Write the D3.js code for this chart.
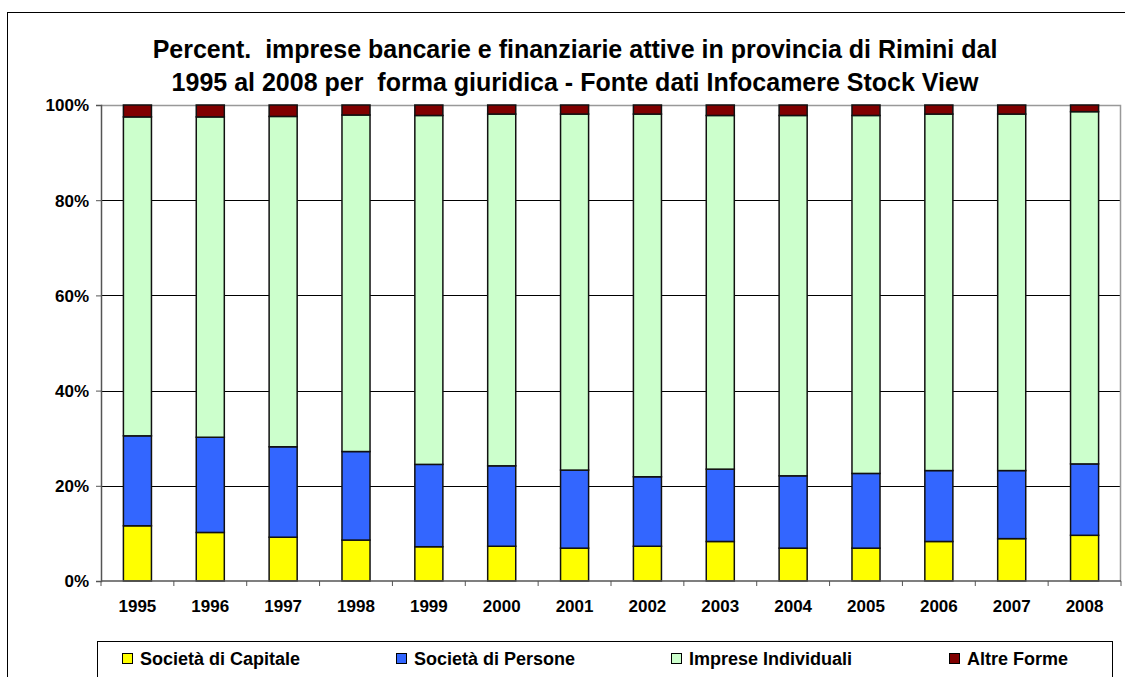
<!DOCTYPE html>
<html lang="it">
<head>
<meta charset="UTF-8">
<title>Imprese bancarie e finanziarie - Rimini</title>
<script src="https://d3js.org/d3.v7.min.js"></script>
<style>
  body { margin: 0; background: #fff; }
  text { font-family: "Liberation Sans", Arial, sans-serif; font-weight: bold; fill: #000; }
  .title { font-size: 25px; text-anchor: middle; }
  .tick-lab { font-size: 17px; }
  .x-lab { font-size: 17px; }
  .legend text { font-size: 18px; }
</style>
</head>
<body>
<div id="chart"></div>
<script>
// data (percent of total per year)
const years = ["1995","1996","1997","1998","1999","2000","2001","2002","2003","2004","2005","2006","2007","2008"];
const capitale    = [11.6, 10.2, 9.2, 8.6, 7.2, 7.3, 6.9, 7.3, 8.3, 6.9, 6.9, 8.3, 8.9, 9.6];
const persone     = [18.9, 20.0, 19.0, 18.6, 17.3, 16.9, 16.4, 14.6, 15.2, 15.2, 15.7, 14.9, 14.3, 15.0];
const individuali = [67.0, 67.3, 69.4, 70.7, 73.3, 73.9, 74.8, 76.2, 74.3, 75.7, 75.2, 74.9, 74.9, 74.0];
const altre       = [2.5, 2.5, 2.4, 2.1, 2.2, 1.9, 1.9, 1.9, 2.2, 2.2, 2.2, 1.9, 1.9, 1.4];
const seriesNames = ["Società di Capitale", "Società di Persone", "Imprese Individuali", "Altre Forme"];
const seriesColors = ["#FFFF00", "#3366FF", "#CCFFCC", "#800000"];
const yTicks = [0, 0.2, 0.4, 0.6, 0.8, 1];

const W = 1125, H = 677;
const margin = { top: 105, right: 4, bottom: 96, left: 101 };
const width = W - margin.left - margin.right,
      height = H - margin.top - margin.bottom;

const svg = d3.select("#chart").append("svg")
    .attr("width", W).attr("height", H);

// outer chart frame
svg.append("rect")
   .attr("x", 7.5).attr("y", 12.5)
   .attr("width", W + 20).attr("height", H + 20)
   .attr("fill", "none").attr("stroke", "#000").attr("stroke-width", 1);

// title
const title = svg.append("text").attr("class", "title").style("white-space", "pre");
title.append("tspan").attr("x", 575).attr("y", 58)
     .text("Percent.  imprese bancarie e finanziarie attive in provincia di Rimini dal");
title.append("tspan").attr("x", 575).attr("y", 91)
     .text("1995 al 2008 per  forma giuridica - Fonte dati Infocamere Stock View");

const g = svg.append("g").attr("transform", `translate(${margin.left},${margin.top})`);

const x = d3.scaleBand().domain(years).range([0, width]).paddingInner(0.615).paddingOuter(0.3075);
const y = d3.scaleLinear().domain([0, 1]).range([height, 0]);

// rows -> stack
const rows = years.map((yr, i) => {
  const tot = capitale[i] + persone[i] + individuali[i] + altre[i];
  return { year: yr, s0: capitale[i] / tot, s1: persone[i] / tot, s2: individuali[i] / tot, s3: altre[i] / tot };
});
const stack = d3.stack().keys(["s0", "s1", "s2", "s3"])(rows);

// gridlines
g.selectAll("line.grid").data(yTicks.filter(d => d > 0 && d < 1)).join("line")
  .attr("class", "grid")
  .attr("x1", 0).attr("x2", width)
  .attr("y1", d => Math.round(y(d)) + 0.5).attr("y2", d => Math.round(y(d)) + 0.5)
  .attr("stroke", "#000").attr("stroke-width", 1);

// plot border (top, right)
g.append("path")
  .attr("d", `M0,${y(1) + 0.5}H${width - 0.5}V${height}`)
  .attr("fill", "none").attr("stroke", "#999").attr("stroke-width", 1.5);

// bars
stack.forEach((layer, k) => {
  g.append("g").selectAll("rect").data(layer).join("rect")
    .attr("x", d => x(d.data.year))
    .attr("y", d => y(d[1]))
    .attr("width", x.bandwidth())
    .attr("height", d => y(d[0]) - y(d[1]))
    .attr("fill", seriesColors[k])
    .attr("stroke", "#111").attr("stroke-width", 1.5);
});

// y axis
const yAxis = d3.axisLeft(y).tickValues(yTicks).tickFormat(d3.format(".0%")).tickSize(5).tickPadding(7);
const yg = g.append("g").call(yAxis);
yg.select(".domain").attr("stroke", "#555").attr("stroke-width", 1.5);
yg.selectAll(".tick line").attr("stroke", "#555");
yg.selectAll(".tick text").attr("class", "tick-lab").attr("dy", "0.35em");

// x axis with ticks at category boundaries
const xg = g.append("g").attr("transform", `translate(0,${height})`);
xg.append("line").attr("x1", 0).attr("x2", width).attr("y1", 0).attr("y2", 0)
  .attr("stroke", "#555").attr("stroke-width", 1.5);
xg.selectAll("line.tk").data(years.concat(["end"])).join("line")
  .attr("class", "tk")
  .attr("x1", (d, i) => i * x.step()).attr("x2", (d, i) => i * x.step())
  .attr("y1", 0).attr("y2", 5)
  .attr("stroke", "#555");
xg.selectAll("text").data(years).join("text")
  .attr("class", "x-lab")
  .attr("x", d => x(d) + x.bandwidth() / 2)
  .attr("y", 30.5)
  .attr("text-anchor", "middle")
  .text(d => d);

// legend
const legend = svg.append("g").attr("class", "legend");
legend.append("rect")
  .attr("x", 97.5).attr("y", 641.5).attr("width", 1015).attr("height", 60)
  .attr("fill", "#fff").attr("stroke", "#000").attr("stroke-width", 1);
const legX = [122, 396, 671, 949];
seriesNames.forEach((name, i) => {
  legend.append("rect")
    .attr("x", legX[i] + 0.5).attr("y", 653.5).attr("width", 10).attr("height", 10)
    .attr("fill", seriesColors[i]).attr("stroke", "#000").attr("stroke-width", 1);
  legend.append("text")
    .attr("x", legX[i] + 18).attr("y", 664.5)
    .text(name);
});
</script>
</body>
</html>
